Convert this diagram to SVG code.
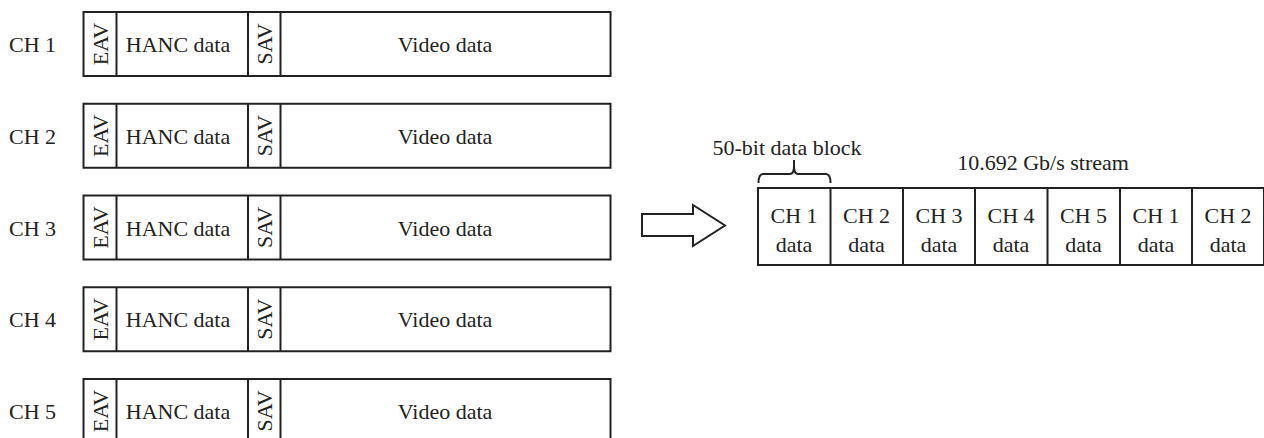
<svg xmlns="http://www.w3.org/2000/svg" width="1264" height="438" viewBox="0 0 1264 438">
<style>
.bx{fill:#fff;stroke:#222;stroke-width:2}
.ln{fill:none;stroke:#222;stroke-width:2}
.t{font-family:"Liberation Serif","Times New Roman",serif;font-size:22px;fill:#222}
.m{text-anchor:middle}
</style>
<rect width="1264" height="438" fill="#fff"/>
<g id="ch1">
<rect class="bx" x="83.5" y="12" width="527" height="64"/>
<line class="ln" x1="116.5" y1="12" x2="116.5" y2="76"/>
<line class="ln" x1="248" y1="12" x2="248" y2="76"/>
<line class="ln" x1="280.5" y1="12" x2="280.5" y2="76"/>
<text class="t" x="9" y="52">CH 1</text>
<text class="t m" transform="translate(108,44) rotate(-90)">EAV</text>
<text class="t m" x="178" y="52">HANC data</text>
<text class="t m" transform="translate(272,44) rotate(-90)">SAV</text>
<text class="t m" x="445" y="52">Video data</text>
</g>
<g id="ch2">
<rect class="bx" x="83.5" y="103.75" width="527" height="64"/>
<line class="ln" x1="116.5" y1="103.75" x2="116.5" y2="167.75"/>
<line class="ln" x1="248" y1="103.75" x2="248" y2="167.75"/>
<line class="ln" x1="280.5" y1="103.75" x2="280.5" y2="167.75"/>
<text class="t" x="9" y="143.75">CH 2</text>
<text class="t m" transform="translate(108,135.75) rotate(-90)">EAV</text>
<text class="t m" x="178" y="143.75">HANC data</text>
<text class="t m" transform="translate(272,135.75) rotate(-90)">SAV</text>
<text class="t m" x="445" y="143.75">Video data</text>
</g>
<g id="ch3">
<rect class="bx" x="83.5" y="195.5" width="527" height="64"/>
<line class="ln" x1="116.5" y1="195.5" x2="116.5" y2="259.5"/>
<line class="ln" x1="248" y1="195.5" x2="248" y2="259.5"/>
<line class="ln" x1="280.5" y1="195.5" x2="280.5" y2="259.5"/>
<text class="t" x="9" y="235.5">CH 3</text>
<text class="t m" transform="translate(108,227.5) rotate(-90)">EAV</text>
<text class="t m" x="178" y="235.5">HANC data</text>
<text class="t m" transform="translate(272,227.5) rotate(-90)">SAV</text>
<text class="t m" x="445" y="235.5">Video data</text>
</g>
<g id="ch4">
<rect class="bx" x="83.5" y="287.25" width="527" height="64"/>
<line class="ln" x1="116.5" y1="287.25" x2="116.5" y2="351.25"/>
<line class="ln" x1="248" y1="287.25" x2="248" y2="351.25"/>
<line class="ln" x1="280.5" y1="287.25" x2="280.5" y2="351.25"/>
<text class="t" x="9" y="327.25">CH 4</text>
<text class="t m" transform="translate(108,319.25) rotate(-90)">EAV</text>
<text class="t m" x="178" y="327.25">HANC data</text>
<text class="t m" transform="translate(272,319.25) rotate(-90)">SAV</text>
<text class="t m" x="445" y="327.25">Video data</text>
</g>
<g id="ch5">
<rect class="bx" x="83.5" y="379" width="527" height="64"/>
<line class="ln" x1="116.5" y1="379" x2="116.5" y2="443"/>
<line class="ln" x1="248" y1="379" x2="248" y2="443"/>
<line class="ln" x1="280.5" y1="379" x2="280.5" y2="443"/>
<text class="t" x="9" y="419">CH 5</text>
<text class="t m" transform="translate(108,411) rotate(-90)">EAV</text>
<text class="t m" x="178" y="419">HANC data</text>
<text class="t m" transform="translate(272,411) rotate(-90)">SAV</text>
<text class="t m" x="445" y="419">Video data</text>
</g>
<g id="connectors">
<path class="ln" d="M642,214 L693,214 L693,205 L725,225.5 L693,246 L693,236 L642,236 Z" stroke-width="1.8"/>
</g>
<g id="brace">
<path class="ln" d="M758.5,183 Q758.5,174 763,174 L790,174 Q794,174 794,166 L794,160 M794,166 Q794,174 798,174 L826,174 Q830.5,174 830.5,183" stroke-width="1.8"/>
<text class="t m" x="787" y="155">50-bit data block</text>
</g>
<g id="stream">
<rect class="bx" x="758" y="188" width="506" height="77"/>
<line class="ln" x1="830.5" y1="188" x2="830.5" y2="265"/>
<line class="ln" x1="903" y1="188" x2="903" y2="265"/>
<line class="ln" x1="975" y1="188" x2="975" y2="265"/>
<line class="ln" x1="1047.5" y1="188" x2="1047.5" y2="265"/>
<line class="ln" x1="1120" y1="188" x2="1120" y2="265"/>
<line class="ln" x1="1192" y1="188" x2="1192" y2="265"/>
<text class="t m" x="1043" y="170">10.692 Gb/s stream</text>
<text class="t m" x="794" y="223">CH 1</text><text class="t m" x="794" y="252">data</text>
<text class="t m" x="866.5" y="223">CH 2</text><text class="t m" x="866.5" y="252">data</text>
<text class="t m" x="939" y="223">CH 3</text><text class="t m" x="939" y="252">data</text>
<text class="t m" x="1011" y="223">CH 4</text><text class="t m" x="1011" y="252">data</text>
<text class="t m" x="1083.5" y="223">CH 5</text><text class="t m" x="1083.5" y="252">data</text>
<text class="t m" x="1156" y="223">CH 1</text><text class="t m" x="1156" y="252">data</text>
<text class="t m" x="1228" y="223">CH 2</text><text class="t m" x="1228" y="252">data</text>
</g>
</svg>
